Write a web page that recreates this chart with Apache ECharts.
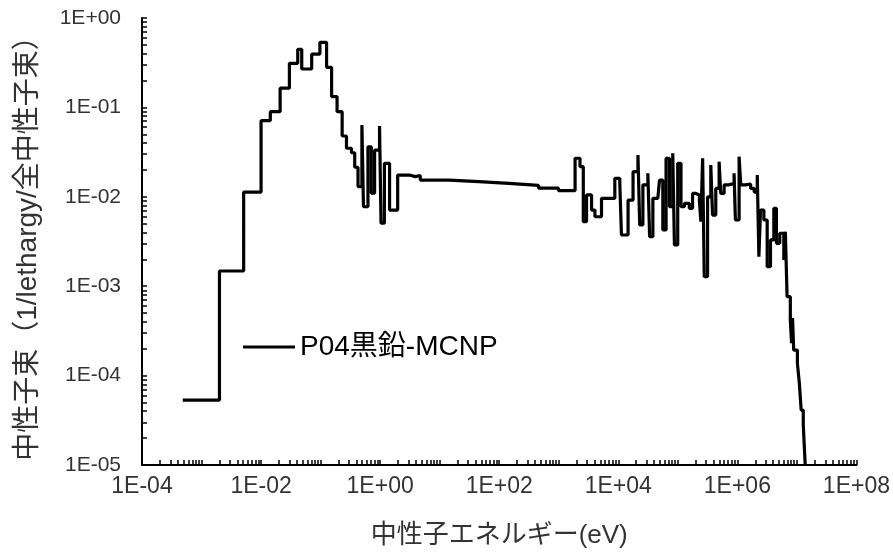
<!DOCTYPE html>
<html>
<head>
<meta charset="utf-8">
<script src="https://cdn.jsdelivr.net/npm/echarts@6/dist/echarts.min.js"></script>
<style>
html, body { margin: 0; padding: 0; background: #fff; }
#chart { width: 893px; height: 554px; }
</style>
</head>
<body>
<div id="chart"></div>
<script>
// Lower edge of each energy bin (eV)
const energyEdges = [
  4.84e-4, 2.0e-3, 5.1e-3, 1.0e-2, 1.43e-2, 2.09e-2, 2.99e-2, 4.13e-2, 4.82e-2, 7.08e-2,
  9.73e-2, 0.126, 0.153, 0.189, 0.230, 0.272, 0.330, 0.374, 0.425, 0.494,
  0.525, 0.624, 0.710, 0.807, 0.977, 1.035, 1.18, 1.44, 1.97, 3.10,
  3.90, 4.72, 14.4, 45.6, 145, 458, 989, 1880, 2275, 2585,
  2930, 3555, 4055, 5225, 8750, 1.06e4, 1.13e4, 1.46e4, 1.77e4, 2.14e4,
  2.29e4, 2.59e4, 3.14e4, 3.36e4, 3.81e4, 4.61e4, 4.93e4, 5.60e4, 6.35e4, 7.24e4,
  8.22e4, 8.77e4, 9.96e4, 1.13e5, 1.29e5, 1.56e5, 1.77e5, 2.01e5, 2.30e5, 2.44e5,
  2.61e5, 2.78e5, 3.16e5, 3.58e5, 3.83e5, 4.34e5, 4.94e5, 5.26e5, 6.00e5, 7.08e5,
  8.81e5, 9.27e5, 1.07e6, 1.14e6, 1.36e6, 1.67e6, 1.92e6, 2.16e6, 2.30e6, 2.45e6,
  2.79e6, 3.17e6, 3.60e6, 4.10e6, 4.53e6, 5.16e6, 6.03e6, 6.40e6, 6.84e6, 7.76e6,
  8.13e6, 8.45e6, 8.85e6, 1.02e7, 1.10e7, 1.18e7, 1.28e7, 1.38e7
];

// Neutron flux per lethargy, normalised to total flux, for each bin
const fluxValues = [
  5.33e-5, 1.48e-3, 1.13e-2, 0.071, 0.0895, 0.164, 0.311, 0.447, 0.269, 0.395,
  0.535, 0.281, 0.132, 0.0895, 0.0479, 0.0349, 0.0311, 0.0214, 0.0130, 0.0635,
  0.00774, 0.0363, 0.0110, 0.0333, 0.0619, 0.00506, 0.0237, 0.00711, 0.0175, 0.0168,
  0.0173, 0.0154, 0.0148, 0.0141, 0.0134, 0.0125, 0.0117, 0.0270, 0.0217, 0.00526,
  0.0105, 0.00711, 0.00598, 0.00962, 0.0161, 0.0142, 0.00374, 0.00920, 0.0191, 0.0294,
  0.00484, 0.0136, 0.0183, 0.00358, 0.00962, 0.0100, 0.0154, 0.00426, 0.0270, 0.00774,
  0.0307, 0.00289, 0.0237, 0.00774, 0.00845, 0.00743, 0.0109, 0.0105, 0.00920, 0.00526,
  0.0270, 0.00128, 0.0100, 0.0227, 0.00625, 0.0124, 0.0247, 0.0109, 0.0136, 0.0141,
  0.0183, 0.00550, 0.0281, 0.0136, 0.0139, 0.0124, 0.0113, 0.0175, 0.00214, 0.00711,
  0.00550, 0.00165, 0.00329, 0.00743, 0.00302, 0.00391, 0.00196, 0.00407, 7.64e-4, 4.19e-4,
  2.30e-4, 4.4e-4, 1.93e-4, 1.37e-4, 8.2e-5, 4.12e-5, 2.80e-5, 1e-5
];

const seriesName = 'P04黒鉛-MCNP';
const xTickLabels = [1e-4, 1e-2, 1, 1e2, 1e4, 1e6, 1e8];
const yTickLabels = [1e-5, 1e-4, 1e-3, 1e-2, 1e-1, 1];
const xTitle = '中性子エネルギー(eV)';
const yTitle = '中性子束（1/lethargy/全中性子束）';

// Log-cycle tick positions (1..9 x 10^k) between two decades
function logCycleTicks(kMin, kMax) {
  const out = [];
  for (let k = kMin; k < kMax; k++) {
    for (let m = 1; m <= 9; m++) out.push(Number((m * Math.pow(10, k)).toPrecision(3)));
  }
  out.push(Math.pow(10, kMax));
  return out;
}

function sciLabel(v) {
  const e = Math.round(Math.log10(v));
  return '1E' + (e < 0 ? '-' : '+') + String(Math.abs(e)).padStart(2, '0');
}

const latin = "'Liberation Sans', Arial, 'Noto Sans CJK JP', sans-serif";
const cjk = "'Liberation Sans', 'Noto Sans CJK JP', sans-serif";

const chart = echarts.init(document.getElementById('chart'), null, { renderer: 'canvas' });

chart.setOption({
  animation: false,
  backgroundColor: '#fff',
  grid: { left: 142, right: 33, top: 18, bottom: 89 },
  legend: {
    left: 243,
    top: 332,
    padding: 0,
    icon: 'rect',
    itemWidth: 52,
    itemHeight: 3,
    textStyle: { fontFamily: cjk, fontSize: 28, color: '#000', lineHeight: 30 },
    data: [seriesName]
  },
  xAxis: {
    type: 'log',
    logBase: 10,
    min: 1e-4,
    max: 1e8,
    name: xTitle,
    nameLocation: 'middle',
    nameGap: 58,
    nameTextStyle: { fontFamily: cjk, fontSize: 26, color: '#333' },
    axisLine: { lineStyle: { color: '#000', width: 2 } },
    axisTick: {
      inside: true, length: 5,
      customValues: logCycleTicks(-4, 8),
      lineStyle: { color: '#000', width: 1.5 }
    },
    axisLabel: {
      customValues: xTickLabels,
      formatter: sciLabel,
      margin: 10,
      fontFamily: "'Liberation Sans Narrow', 'Liberation Sans', sans-serif",
      fontSize: 23,
      color: '#333'
    },
    splitLine: { show: false }
  },
  yAxis: {
    type: 'log',
    logBase: 10,
    min: 1e-5,
    max: 1,
    name: yTitle,
    nameLocation: 'middle',
    nameGap: 100,
    nameTextStyle: { fontFamily: cjk, fontSize: 28, color: '#333' },
    axisLine: { lineStyle: { color: '#000', width: 2 } },
    axisTick: {
      inside: true, length: 5,
      customValues: logCycleTicks(-5, 0),
      lineStyle: { color: '#000', width: 1.5 }
    },
    axisLabel: {
      customValues: yTickLabels,
      formatter: sciLabel,
      margin: 21,
      fontFamily: latin,
      fontSize: 21,
      color: '#333'
    },
    splitLine: { show: false }
  },
  series: [{
    name: seriesName,
    type: 'line',
    step: 'end',
    symbol: 'none',
    showSymbol: false,
    clip: true,
    color: '#000',
    lineStyle: { color: '#000', width: 3.2 },
    data: energyEdges.map((e, i) => [e, fluxValues[i]])
  }]
});
</script>
</body>
</html>
